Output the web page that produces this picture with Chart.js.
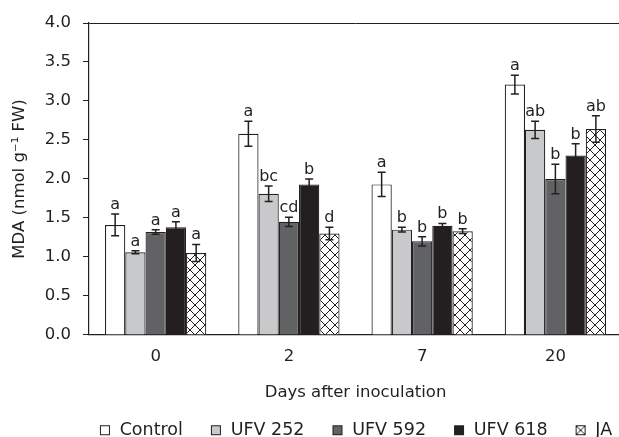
<!DOCTYPE html>
<html lang="en">
<head>
  <meta charset="UTF-8" />
  <title>MDA</title>
  <script src="https://cdn.jsdelivr.net/npm/chart.js"></script>
  <style>
    html, body { margin: 0; padding: 0; background: #fff; overflow: hidden; }
    #wrap { width: 625px; height: 437px; }
  </style>
</head>
<body>
  <div id="wrap"><canvas id="mda"></canvas></div>

  <script>
    // days after inoculation
    const days = ['0', '2', '7', '20'];
    const treatments = ['Control', 'UFV 252', 'UFV 592', 'UFV 618', 'JA'];

    // MDA (nmol g-1 FW) per treatment, one value per day
    const control = [1.41, 2.58, 1.93, 3.21];
    const ufv252 = [1.06, 1.81, 1.35, 2.63];
    const ufv592 = [1.32, 1.45, 1.20, 2.00];
    const ufv618 = [1.38, 1.93, 1.40, 2.30];
    const ja = [1.05, 1.30, 1.33, 2.64];

    // standard error
    const controlErr = [0.14, 0.16, 0.155, 0.12];
    const ufv252Err = [0.02, 0.10, 0.03, 0.11];
    const ufv592Err = [0.03, 0.06, 0.06, 0.19];
    const ufv618Err = [0.07, 0.07, 0.03, 0.15];
    const jaErr = [0.11, 0.08, 0.03, 0.17];

    // letters for mean comparison
    const controlLet = ['a', 'a', 'a', 'a'];
    const ufv252Let = ['a', 'bc', 'b', 'ab'];
    const ufv592Let = ['a', 'cd', 'b', 'b'];
    const ufv618Let = ['a', 'b', 'b', 'b'];
    const jaLet = ['a', 'd', 'b', 'ab'];

    const yTicks = [0, 0.5, 1, 1.5, 2, 2.5, 3, 3.5, 4];

    const FONT = '"DejaVu Sans", sans-serif';
    const FS = 16.5;
    const LEG_FS = 17.5;
    const LEG_PAD = 27;
    const INK = '#231f20';

    function hatchPattern() {
      const c = document.createElement('canvas');
      c.width = 10; c.height = 10;
      const g = c.getContext('2d');
      g.fillStyle = '#fff';
      g.fillRect(0, 0, 10, 10);
      g.strokeStyle = INK;
      g.lineWidth = 1;
      g.beginPath();
      g.moveTo(-1, -1); g.lineTo(11, 11);
      g.moveTo(11, -1); g.lineTo(-1, 11);
      g.stroke();
      return g.createPattern(c, 'repeat');
    }

    function legendBox(fill, cross) {
      const c = document.createElement('canvas');
      c.width = 12; c.height = 12;
      const g = c.getContext('2d');
      g.fillStyle = fill;
      g.fillRect(1, 1, 10, 10);
      g.strokeStyle = INK;
      g.lineWidth = 1;
      if (cross) {
        g.beginPath();
        g.moveTo(1.5, 1.5); g.lineTo(10.5, 10.5);
        g.moveTo(10.5, 1.5); g.lineTo(1.5, 10.5);
        g.stroke();
      }
      g.strokeRect(1.5, 1.5, 9, 9);
      return c;
    }

    const fills = ['#ffffff', '#c8c9cb', '#616264', '#231f20', hatchPattern()];
    const values = [control, ufv252, ufv592, ufv618, ja];
    const errs = [controlErr, ufv252Err, ufv592Err, ufv618Err, jaErr];
    const lets = [controlLet, ufv252Let, ufv592Let, ufv618Let, jaLet];
    const boxes = [
      legendBox('#ffffff'), legendBox('#c8c9cb'), legendBox('#616264'),
      legendBox('#231f20'), legendBox('#ffffff', true)
    ];

    const errorBars = {
      id: 'errorBars',
      afterDatasetsDraw(chart) {
        const ctx = chart.ctx;
        const y = chart.scales.y;
        ctx.save();
        ctx.strokeStyle = INK;
        ctx.lineWidth = 1.5;
        ctx.fillStyle = INK;
        ctx.font = '16px ' + FONT;
        ctx.textAlign = 'center';
        ctx.textBaseline = 'alphabetic';
        chart.data.datasets.forEach((ds, di) => {
          chart.getDatasetMeta(di).data.forEach((bar, i) => {
            const v = ds.data[i];
            const e = errs[di][i];
            const top = y.getPixelForValue(v + e);
            const bot = y.getPixelForValue(v - e);
            ctx.beginPath();
            ctx.moveTo(bar.x, top); ctx.lineTo(bar.x, bot);
            ctx.moveTo(bar.x - 4, top); ctx.lineTo(bar.x + 4, top);
            ctx.moveTo(bar.x - 4, bot); ctx.lineTo(bar.x + 4, bot);
            ctx.stroke();
            ctx.fillText(lets[di][i], bar.x, top - 5);
          });
        });
        ctx.restore();
      }
    };

    // centre the legend row under the plot area instead of the canvas
    const legendUnderPlot = {
      id: 'legendUnderPlot',
      afterLayout(chart) {
        const lg = chart.legend, ca = chart.chartArea;
        const dx = (ca.left + ca.right) / 2 - (lg.left + lg.right) / 2;
        lg.left += dx;
        lg.right += dx;
      }
    };

    new Chart(document.getElementById('mda'), {
      type: 'bar',
      data: {
        labels: days,
        datasets: treatments.map((t, k) => ({
          label: t,
          data: values[k],
          backgroundColor: fills[k],
          borderColor: INK,
          borderWidth: 1.2,
          pointStyle: boxes[k],
          categoryPercentage: 0.76,
          barPercentage: 1
        }))
      },
      options: {
        responsive: true,
        maintainAspectRatio: false,
        animation: false,
        layout: { padding: { top: 23, right: 3, left: 10, bottom: -12 } },
        plugins: {
          tooltip: { enabled: false },
          legend: {
            position: 'bottom',
            labels: {
              usePointStyle: true,
              pointStyleWidth: 12,
              color: INK,
              font: { family: FONT, size: LEG_FS },
              padding: LEG_PAD
            }
          }
        },
        scales: {
          x: {
            grid: { display: false, drawTicks: false },
            border: { display: true, color: INK, width: 1.2 },
            ticks: { color: INK, font: { family: FONT, size: FS }, padding: 12 },
            title: {
              display: true, text: 'Days after inoculation', color: INK,
              font: { family: FONT, size: FS }, padding: { top: 4, bottom: -8 }
            }
          },
          y: {
            min: 0, max: 4,
            afterBuildTicks: s => { s.ticks = yTicks.map(v => ({ value: v })); },
            grid: {
              drawOnChartArea: true,
              color: c => (c.tick && c.tick.value === 4 ? INK : 'rgba(0,0,0,0)'),
              tickColor: INK,
              tickLength: 6
            },
            border: { display: true, color: INK, width: 1.2 },
            ticks: {
              color: INK, font: { family: FONT, size: FS }, padding: 12,
              callback: v => Number(v).toFixed(1)
            },
            title: {
              display: true, text: 'MDA (nmol g\u207B\u00B9 FW)', color: INK,
              font: { family: FONT, size: FS }, padding: { top: 0, bottom: 3 }
            }
          }
        }
      },
      plugins: [errorBars, legendUnderPlot]
    });
  </script>
</body>
</html>
